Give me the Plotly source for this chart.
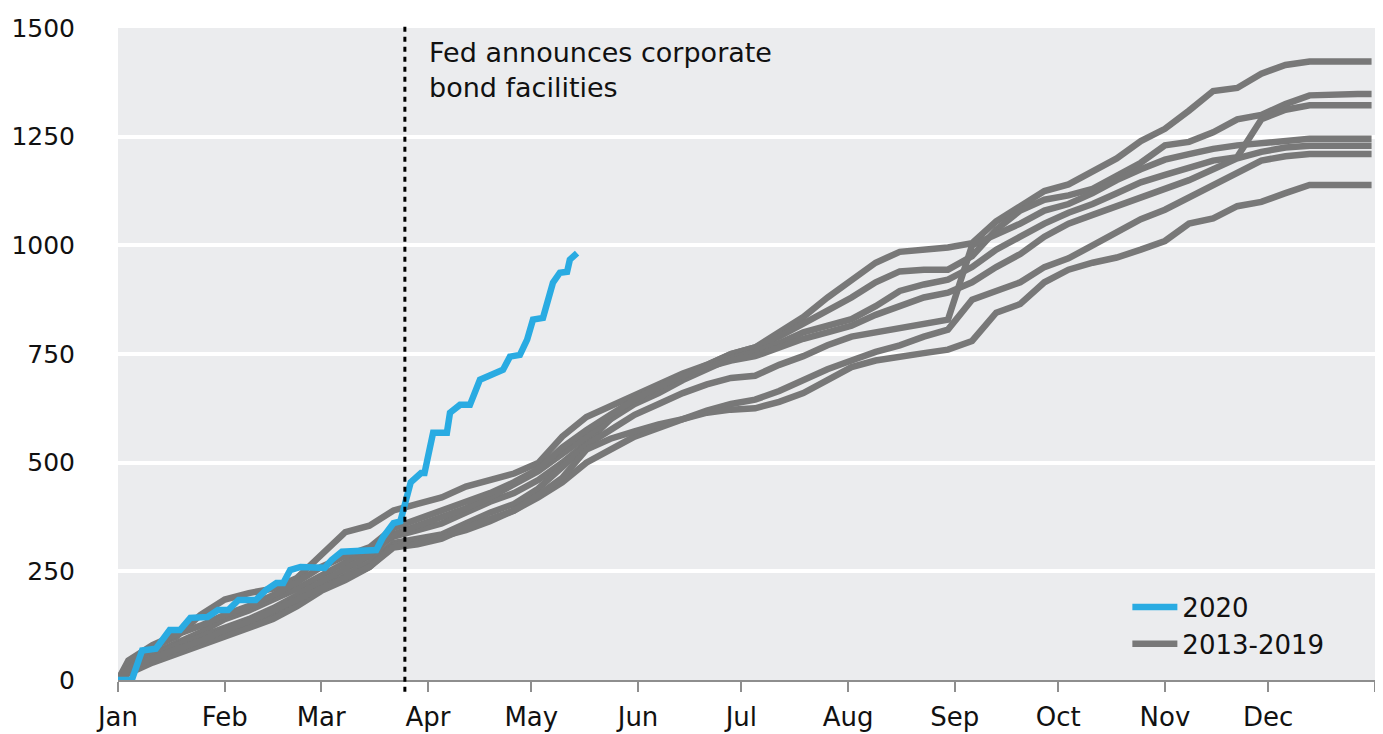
import plotly.graph_objects as go

# ---------------- data ----------------
month_ticks = [0, 31, 59, 90, 120, 151, 181, 212, 243, 273, 304, 334, 365]
month_labels = ["Jan", "Feb", "Mar", "Apr", "May", "Jun", "Jul", "Aug", "Sep", "Oct", "Nov", "Dec", ""]
y_ticks = [0, 250, 500, 750, 1000, 1250, 1500]

fed_day = 83.3
fed_text = "Fed announces corporate<br>bond facilities"

days_2020 = [0, 4, 7, 11, 15, 18, 21, 26, 29, 32, 35, 40, 43, 46, 48, 50, 53, 60, 62, 65,
             75, 77, 80, 82, 85, 88, 89, 91.5, 95.5, 96.4, 99.3, 102.2, 105.1, 108.9, 111.8,
             113.8, 116.7, 118.8, 120.5, 123.4, 126.3, 128.3, 130.4, 131.2, 133.3]
vals_2020 = [0, 0, 68, 72, 115, 115, 143, 145, 161, 161, 184, 184, 207, 223, 223, 253, 260, 258, 276, 295,
             299, 329, 361, 365, 455, 476, 476, 569, 569, 615, 633, 633, 691, 702, 714,
             744, 748, 783, 829, 833, 914, 937, 939, 967, 982]

days_hist = [0, 3, 10, 17, 24, 31, 38, 45, 52, 59, 66, 73, 80, 87, 94, 101, 108, 115, 122, 129,
             136, 143, 150, 157, 164, 171, 178, 185, 192, 199, 206, 213, 220, 227, 234, 241, 248,
             255, 262, 269, 276, 283, 290, 297, 304, 311, 318, 325, 332, 339, 346, 353, 360, 364]

hist_a = [0, 35, 60, 85, 110, 140, 160, 185, 210, 240, 270, 300, 330, 345, 360, 385, 410, 430, 460, 500,
          545, 600, 650, 670, 700, 725, 750, 765, 800, 835, 880, 920, 960, 985, 990, 995, 1005,
          1055, 1090, 1125, 1140, 1170, 1200, 1240, 1268, 1310, 1355, 1362, 1395, 1415, 1423, 1423, 1423, 1423]
hist_b = [0, 40, 75, 100, 150, 185, 200, 210, 235, 290, 340, 355, 390, 405, 420, 445, 460, 475, 499, 560,
          605, 630, 655, 680, 705, 725, 750, 765, 790, 820, 850, 880, 915, 940, 944, 944, 975,
          1036, 1080, 1105, 1115, 1130, 1160, 1190, 1230, 1238, 1260, 1290, 1300, 1325, 1345, 1348, 1348, 1348]
hist_c = [0, 30, 55, 80, 100, 120, 140, 165, 195, 225, 255, 285, 335, 355, 375, 395, 420, 450, 480, 520,
          560, 600, 635, 660, 690, 715, 740, 755, 775, 800, 815, 830, 860, 895, 910, 921, 950,
          990, 1020, 1050, 1075, 1095, 1120, 1145, 1162, 1180, 1195, 1203, 1290, 1312, 1322, 1322, 1322, 1322]
hist_d = [0, 20, 45, 65, 85, 105, 125, 150, 180, 210, 240, 270, 315, 325, 335, 360, 385, 405, 440, 490,
          540, 575, 610, 635, 660, 680, 695, 700, 725, 745, 770, 790, 800, 810, 820, 829, 1000,
          1025, 1050, 1080, 1095, 1120, 1150, 1175, 1197, 1210, 1222, 1230, 1235, 1242, 1245, 1245, 1245, 1245]
hist_e = [0, 45, 80, 105, 125, 150, 170, 195, 225, 260, 285, 305, 350, 370, 390, 410, 430, 455, 485, 535,
          575, 610, 645, 675, 700, 720, 735, 745, 765, 785, 800, 815, 840, 860, 880, 891, 915,
          950, 980, 1020, 1050, 1070, 1090, 1110, 1128, 1150, 1175, 1200, 1215, 1225, 1229, 1229, 1229, 1229]
hist_f = [0, 15, 40, 60, 80, 100, 120, 140, 170, 205, 230, 260, 310, 318, 330, 345, 365, 390, 420, 455,
          500, 530, 560, 580, 600, 620, 635, 645, 665, 690, 715, 735, 755, 770, 790, 806, 875,
          895, 915, 950, 970, 1000, 1030, 1060, 1082, 1110, 1140, 1170, 1195, 1205, 1210, 1210, 1210, 1210]
hist_g = [0, 25, 50, 70, 90, 115, 135, 160, 185, 210, 235, 260, 305, 312, 325, 350, 370, 390, 425, 465,
          530, 555, 572, 588, 600, 615, 622, 625, 640, 660, 690, 720, 735, 745, 752, 760, 780,
          845, 865, 915, 944, 960, 972, 990, 1010, 1050, 1062, 1090, 1100, 1120, 1139, 1139, 1139, 1139]

hist_series = [hist_a, hist_b, hist_c, hist_d, hist_e, hist_f, hist_g]

# ---------------- style ----------------
GREY = "#787878"
BLUE = "#29abe2"
FONT = "DejaVu Sans"
TXT = "#111111"

fig = go.Figure()
for i, vals in enumerate(hist_series):
    fig.add_trace(go.Scatter(
        x=days_hist, y=vals, mode="lines",
        line=dict(color=GREY, width=6.5, shape="linear"),
        name="2013-2019", legendgroup="hist", showlegend=(i == 0), legendrank=2,
        hoverinfo="skip"))

fig.add_trace(go.Scatter(
    x=days_2020, y=vals_2020, mode="lines",
    line=dict(color=BLUE, width=6.5),
    name="2020", legendrank=1))

fig.add_shape(type="line", xref="x", yref="paper", x0=fed_day, x1=fed_day, y0=-0.018, y1=1.008,
              line=dict(color="black", width=3, dash="5px,5px"), layer="above")

fig.add_annotation(text=fed_text, xref="paper", yref="paper", x=0.246, y=0.99,
                   xanchor="left", yanchor="top", showarrow=False, align="left",
                   font=dict(family=FONT, size=27, color=TXT))

# the page places the figure 8px in from the top-left corner
fig.update_layout(
    width=1375, height=726,
    margin=dict(l=110, r=8, t=20, b=54, autoexpand=False),
    paper_bgcolor="white", plot_bgcolor="#ebecee",
    font=dict(family=FONT, size=25, color=TXT),
    showlegend=True,
    legend=dict(x=0.803, y=0.148, xanchor="left", yanchor="top",
                bgcolor="rgba(0,0,0,0)", borderwidth=0, itemwidth=45,
                tracegroupgap=0, font=dict(family=FONT, size=26, color=TXT)),
    xaxis=dict(range=[0, 365], tickmode="array", tickvals=month_ticks, ticktext=month_labels,
               ticks="outside", ticklen=10, tickwidth=2, tickcolor="#8e8e8e",
               showline=True, linecolor="#8e8e8e", linewidth=2,
               showgrid=False, zeroline=False, fixedrange=True, automargin=False,
               ticklabelstandoff=3,
               tickfont=dict(family=FONT, size=26, color=TXT)),
    yaxis=dict(range=[0, 1500], tickmode="array", tickvals=y_ticks,
               showgrid=True, gridcolor="white", gridwidth=4,
               zeroline=False, showline=False, ticks="", ticklabelstandoff=42,
               fixedrange=True, automargin=False,
               tickfont=dict(family=FONT, size=25, color=TXT)),
)

fig.write_html("out.html")
